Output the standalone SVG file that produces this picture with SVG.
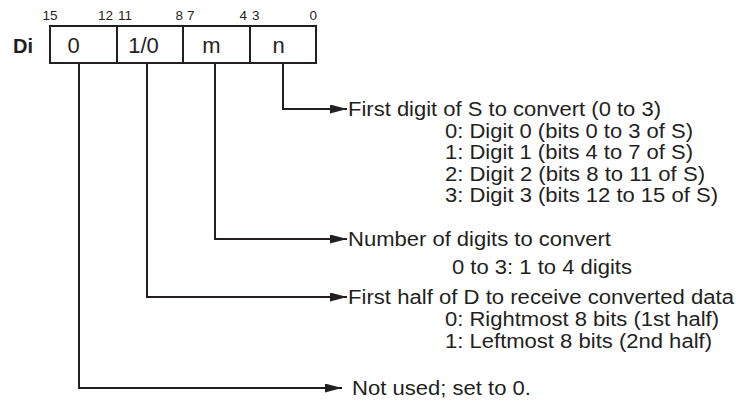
<svg xmlns="http://www.w3.org/2000/svg" width="736" height="403" viewBox="0 0 736 403">
<defs>
<style>
.t{font-family:"Liberation Sans",Arial,sans-serif;font-size:19.5px;fill:#231f20}
.b{font-family:"Liberation Sans",Arial,sans-serif;font-size:13.5px;fill:#231f20}
.f{font-family:"Liberation Sans",Arial,sans-serif;font-size:22px;fill:#231f20;text-anchor:middle}
.c{fill:none;stroke:#231f20;stroke-width:2}
.box{fill:#fff;stroke:#231f20;stroke-width:2}
</style>
<marker id="ah" markerUnits="userSpaceOnUse" markerWidth="18" markerHeight="10" refX="17" refY="4.5" orient="auto">
<path d="M0,0 L17,4.5 L0,9 Z" fill="#231f20"/>
</marker>
</defs>
<rect width="736" height="403" fill="#fff"/>
<g id="bits">
<text class="b" x="50" y="20" text-anchor="middle">15</text>
<text class="b" x="113" y="20" text-anchor="end">12</text>
<text class="b" x="118" y="20">11</text>
<text class="b" x="183" y="20" text-anchor="end">8</text>
<text class="b" x="187" y="20">7</text>
<text class="b" x="247" y="20" text-anchor="end">4</text>
<text class="b" x="252" y="20">3</text>
<text class="b" x="317" y="20" text-anchor="end">0</text>
</g>
<g id="register">
<text x="13" y="53" style="font-family:'Liberation Sans',Arial,sans-serif;font-size:20px;font-weight:bold;fill:#231f20">Di</text>
<rect class="box" x="50" y="26" width="266" height="37"/>
<line class="c" x1="117" y1="26" x2="117" y2="63"/>
<line class="c" x1="183" y1="26" x2="183" y2="63"/>
<line class="c" x1="250" y1="26" x2="250" y2="63"/>
</g>
<g id="field-0"><text class="f" x="73.5" y="53">0</text></g>
<g id="field-10"><text class="f" x="143.5" y="53">1/0</text></g>
<g id="field-m"><text class="f" x="211.5" y="53">m</text></g>
<g id="field-n"><text class="f" x="278.5" y="53">n</text></g>
<g id="connectors">
<path class="c" d="M283 63 V109 H347" marker-end="url(#ah)"/>
<path class="c" d="M215 63 V239 H347" marker-end="url(#ah)"/>
<path class="c" d="M147 63 V297 H347" marker-end="url(#ah)"/>
<path class="c" d="M79 63 V388 H342" marker-end="url(#ah)"/>
</g>
<g id="desc-n">
<text class="t" x="348" y="116" textLength="313" lengthAdjust="spacingAndGlyphs">First digit of S to convert (0 to 3)</text>
<text class="t" x="445" y="137.5" textLength="248" lengthAdjust="spacingAndGlyphs">0: Digit 0 (bits 0 to 3 of S)</text>
<text class="t" x="445" y="159" textLength="248" lengthAdjust="spacingAndGlyphs">1: Digit 1 (bits 4 to 7 of S)</text>
<text class="t" x="445" y="180.5" textLength="260" lengthAdjust="spacingAndGlyphs">2: Digit 2 (bits 8 to 11 of S)</text>
<text class="t" x="445" y="202" textLength="273" lengthAdjust="spacingAndGlyphs">3: Digit 3 (bits 12 to 15 of S)</text>
</g>
<g id="desc-m">
<text class="t" x="348" y="246" textLength="263" lengthAdjust="spacingAndGlyphs">Number of digits to convert</text>
<text class="t" x="452" y="274" textLength="180" lengthAdjust="spacingAndGlyphs">0 to 3: 1 to 4 digits</text>
</g>
<g id="desc-10">
<text class="t" x="348" y="304" textLength="386" lengthAdjust="spacingAndGlyphs">First half of D to receive converted data</text>
<text class="t" x="445" y="326" textLength="274" lengthAdjust="spacingAndGlyphs">0: Rightmost 8 bits (1st half)</text>
<text class="t" x="445" y="348" textLength="267" lengthAdjust="spacingAndGlyphs">1: Leftmost 8 bits (2nd half)</text>
</g>
<g id="desc-0">
<text class="t" x="352" y="395" textLength="179" lengthAdjust="spacingAndGlyphs">Not used; set to 0.</text>
</g>
</svg>
